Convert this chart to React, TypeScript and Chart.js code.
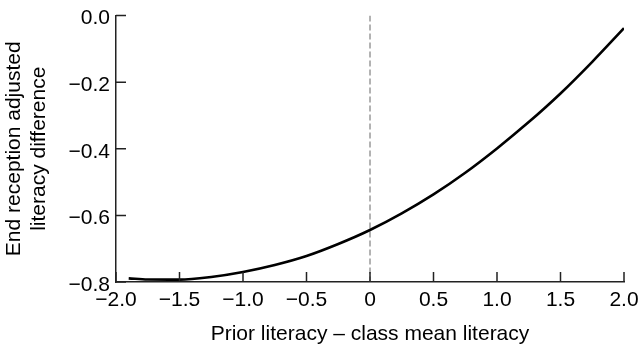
import React, { useEffect, useRef } from "react";
import { Chart, registerables } from "chart.js";

Chart.register(...registerables);

// Prior literacy minus class mean literacy (x) and the fitted difference (y)
const priorDiff = [-1.9, -1.75, -1.5, -1.25, -1.0, -0.75, -0.5, -0.25, 0, 0.25, 0.5, 0.75, 1.0, 1.25, 1.5, 1.75, 2.0];
const endDiff = [-0.789, -0.7925, -0.793, -0.785, -0.77, -0.749, -0.722, -0.686, -0.644, -0.594, -0.537, -0.472, -0.399, -0.32, -0.234, -0.139, -0.038];

// Reference line at the class mean
const meanLineX = [0, 0];
const meanLineY = [0, -0.8];

// Axis ticks and their printed labels
const xTickValues = [-2.0, -1.5, -1.0, -0.5, 0, 0.5, 1.0, 1.5, 2.0];
const xTickLabels = ["\u22122.0", "\u22121.5", "\u22121.0", "\u22120.5", "0", "0.5", "1.0", "1.5", "2.0"];
const yTickValues = [0.0, -0.2, -0.4, -0.6, -0.8];
const yTickLabels = ["0.0", "\u22120.2", "\u22120.4", "\u22120.6", "\u22120.8"];

const xTitle = "Prior literacy \u2013 class mean literacy";
const yTitle = ["End reception adjusted", "literacy difference"];

const FONT = '"Liberation Sans", Arial, Helvetica, sans-serif';
const FONT_SIZE = 21;
const AXIS_COLOR = "#222";

// Scales keep a fixed size and do not push the plot area inward
const fixScale = (size: { width?: number; height?: number }) => (scale: any) => {
  if (size.width !== undefined) scale.width = size.width;
  if (size.height !== undefined) scale.height = size.height;
  scale.paddingTop = 0;
  scale.paddingBottom = 0;
  scale.paddingLeft = 0;
  scale.paddingRight = 0;
};

// Short tick marks drawn inward from the axes
const innerTicks = {
  id: "innerTicks",
  afterDraw(chart: any) {
    const { ctx, chartArea, scales } = chart;
    const len = 10;
    ctx.save();
    ctx.strokeStyle = AXIS_COLOR;
    ctx.lineWidth = 1.5;
    ctx.beginPath();
    xTickValues.forEach((v) => {
      const px = scales.x.getPixelForValue(v);
      ctx.moveTo(px, chartArea.bottom);
      ctx.lineTo(px, chartArea.bottom - len);
    });
    yTickValues.forEach((v) => {
      const py = scales.y.getPixelForValue(v);
      ctx.moveTo(chartArea.left, py);
      ctx.lineTo(chartArea.left + len, py);
    });
    ctx.stroke();
    ctx.restore();
  },
};

export default function App() {
  const canvasRef = useRef<HTMLCanvasElement | null>(null);

  useEffect(() => {
    document.body.style.margin = "0";
    const canvas = canvasRef.current;
    if (!canvas) return;

    const chart = new Chart(canvas, {
      type: "line",
      data: {
        datasets: [
          {
            data: priorDiff.map((x, i) => ({ x, y: endDiff[i] })),
            borderColor: "#000",
            borderWidth: 2.6,
            pointRadius: 0,
            cubicInterpolationMode: "monotone",
            fill: false,
            order: 1,
          },
          {
            data: meanLineX.map((x, i) => ({ x, y: meanLineY[i] })),
            borderColor: "#666",
            borderWidth: 1,
            borderDash: [6, 3],
            pointRadius: 0,
            fill: false,
            order: 2,
          },
        ],
      },
      options: {
        responsive: false,
        animation: false,
        devicePixelRatio: 1,
        layout: { padding: { left: 0, right: 16, top: 15.5, bottom: 0 } },
        plugins: {
          legend: { display: false },
          tooltip: { enabled: false },
        },
        scales: {
          x: {
            type: "linear",
            min: -2,
            max: 2,
            afterBuildTicks: (scale: any) => {
              scale.ticks = xTickValues.map((value) => ({ value }));
            },
            afterFit: fixScale({ height: 70 }),
            ticks: {
              callback: (_v: any, i: number) => xTickLabels[i],
              color: "#000",
              font: { family: FONT, size: FONT_SIZE },
              padding: 6,
              maxRotation: 0,
              autoSkip: false,
            },
            grid: { display: false, drawTicks: false },
            border: { display: true, color: AXIS_COLOR, width: 1.5 },
            title: {
              display: true,
              text: xTitle,
              color: "#000",
              font: { family: FONT, size: FONT_SIZE },
              padding: { top: 0, bottom: 5 },
            },
          },
          y: {
            type: "linear",
            min: -0.8,
            max: 0,
            afterBuildTicks: (scale: any) => {
              scale.ticks = yTickValues.map((value) => ({ value }));
            },
            afterFit: fixScale({ width: 116 }),
            ticks: {
              callback: (_v: any, i: number) => yTickLabels[i],
              color: "#000",
              font: { family: FONT, size: FONT_SIZE },
              padding: 6,
              labelOffset: 3,
              autoSkip: false,
            },
            grid: { display: false, drawTicks: false },
            border: { display: true, color: AXIS_COLOR, width: 1.5 },
            title: {
              display: true,
              text: yTitle,
              color: "#000",
              font: { family: FONT, size: FONT_SIZE, lineHeight: 25 / FONT_SIZE },
              padding: { top: 2, bottom: 0 },
            },
          },
        },
      },
      plugins: [innerTicks],
    });

    return () => chart.destroy();
  }, []);

  return (
    <div style={{ position: "absolute", left: 0, top: 0, width: 640, height: 352 }}>
      <canvas ref={canvasRef} width={640} height={352} />
    </div>
  );
}
